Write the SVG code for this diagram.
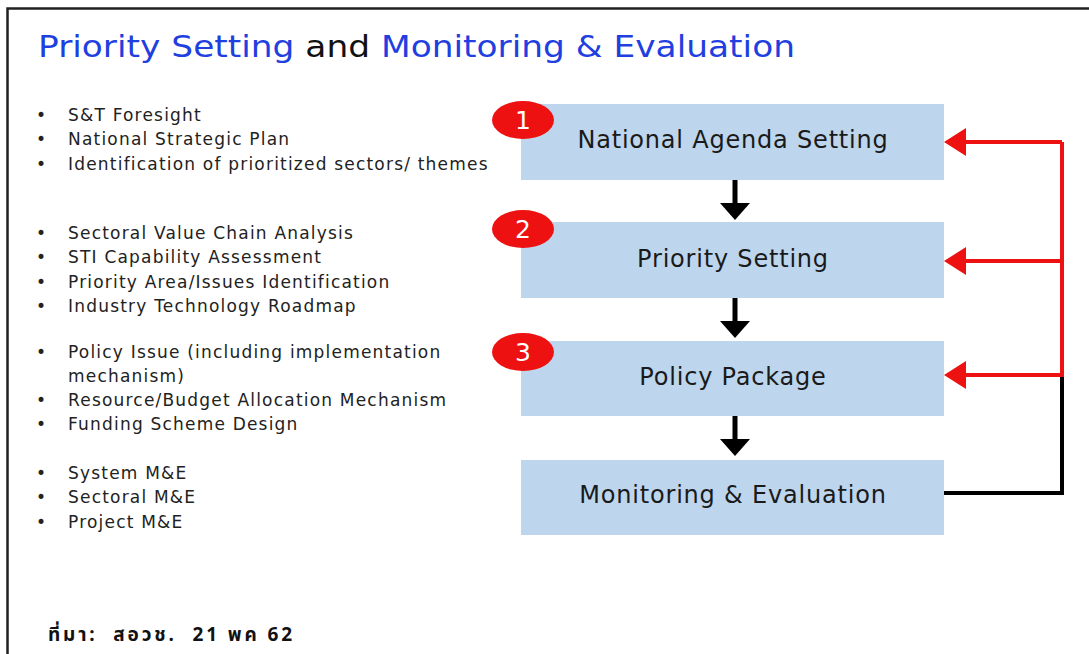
<svg xmlns="http://www.w3.org/2000/svg" width="1089" height="654" viewBox="0 0 1089 654">
<style>
.title{font-family:"DejaVu Sans","Liberation Sans",sans-serif;font-size:31px;}
.blue{fill:#1f3fe0;}
.blk{fill:#111;}
.bul{font-family:"DejaVu Sans","Liberation Sans",sans-serif;font-size:17px;fill:#222;letter-spacing:1.2px;}
.box{fill:#bdd6ee;}
.btxt{font-family:"DejaVu Sans","Liberation Sans",sans-serif;font-size:24px;fill:#1a1a1a;text-anchor:middle;letter-spacing:0.8px;}
.num{fill:#ee1111;}
.ntxt{font-family:"DejaVu Sans","Liberation Sans",sans-serif;font-size:25px;fill:#fff;text-anchor:middle;}
.red{stroke:#ee1111;stroke-width:4;fill:none;}
.black{stroke:#000;stroke-width:4;fill:none;}
</style>
<rect width="1089" height="654" fill="#fff"/>
<path d="M7.5,654 V8.5 H1089" stroke="#222" stroke-width="2.5" fill="none"/>
<text x="38" y="57" class="title" textLength="757" lengthAdjust="spacingAndGlyphs"><tspan class="blue">Priority Setting</tspan><tspan class="blk"> and </tspan><tspan class="blue">Monitoring &amp; Evaluation</tspan></text>

<g id="bullets" class="bul">
<text x="36" y="121">•</text><text x="68" y="121">S&amp;T Foresight</text>
<text x="36" y="145">•</text><text x="68" y="145">National Strategic Plan</text>
<text x="36" y="170">•</text><text x="68" y="170">Identification of prioritized sectors/ themes</text>
<text x="36" y="239">•</text><text x="68" y="239">Sectoral Value Chain Analysis</text>
<text x="36" y="263">•</text><text x="68" y="263">STI Capability Assessment</text>
<text x="36" y="288">•</text><text x="68" y="288">Priority Area/Issues Identification</text>
<text x="36" y="312">•</text><text x="68" y="312">Industry Technology Roadmap</text>
<text x="36" y="358">•</text><text x="68" y="358">Policy Issue (including implementation</text>
<text x="68" y="382">mechanism)</text>
<text x="36" y="406">•</text><text x="68" y="406">Resource/Budget Allocation Mechanism</text>
<text x="36" y="430">•</text><text x="68" y="430">Funding Scheme Design</text>
<text x="36" y="479">•</text><text x="68" y="479">System M&amp;E</text>
<text x="36" y="503">•</text><text x="68" y="503">Sectoral M&amp;E</text>
<text x="36" y="528">•</text><text x="68" y="528">Project M&amp;E</text>
</g>

<g id="node1"><rect class="box" x="521" y="104" width="423" height="76"/><text class="btxt" x="733" y="148">National Agenda Setting</text>
<ellipse class="num" cx="523" cy="120" rx="31" ry="19"/><text class="ntxt" x="523" y="129">1</text></g>
<g id="node2"><rect class="box" x="521" y="222" width="423" height="76"/><text class="btxt" x="733" y="267">Priority Setting</text>
<ellipse class="num" cx="523" cy="229" rx="31" ry="19"/><text class="ntxt" x="523" y="238">2</text></g>
<g id="node3"><rect class="box" x="521" y="341" width="423" height="75"/><text class="btxt" x="733" y="385">Policy Package</text>
<ellipse class="num" cx="523" cy="352" rx="31" ry="19"/><text class="ntxt" x="523" y="361">3</text></g>
<g id="node4"><rect class="box" x="521" y="460" width="423" height="75"/><text class="btxt" x="733" y="503">Monitoring &amp; Evaluation</text></g>

<g id="connectors">
<g fill="#000">
<rect x="732.5" y="180" width="5" height="24"/><path d="M720,203 L750,203 L735,220 z"/>
<rect x="732.5" y="298" width="5" height="24"/><path d="M720,321 L750,321 L735,338 z"/>
<rect x="732.5" y="416" width="5" height="24"/><path d="M720,439 L750,439 L735,456 z"/>
</g>
<path class="black" d="M944,493 H1062 V375"/>
<path class="red" d="M1062,377 V142"/>
<path class="red" d="M1062,142 H962"/>
<path class="red" d="M1062,261 H962"/>
<path class="red" d="M1062,375 H962"/>
<path d="M944,142 L966,128 L966,156 z" fill="#ee1111"/>
<path d="M944,261 L966,247 L966,275 z" fill="#ee1111"/>
<path d="M944,375 L966,361 L966,389 z" fill="#ee1111"/>
</g>

<text x="48" y="641" font-family="'Noto Sans Thai','Tahoma','Noto Sans','DejaVu Sans',sans-serif" font-size="19" font-weight="bold" fill="#111" textLength="244" lengthAdjust="spacing" xml:space="preserve">ที่มา:  สอวช.  21 พค 62</text>
</svg>
